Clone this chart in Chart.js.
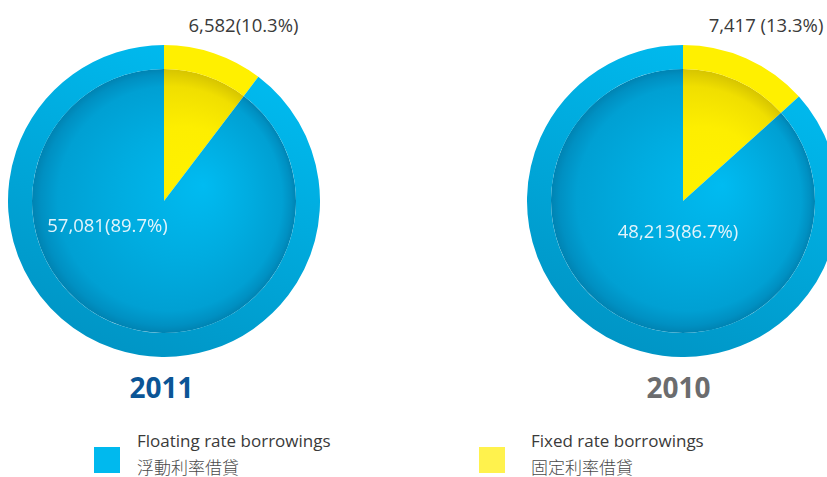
<!DOCTYPE html>
<html><head><meta charset="utf-8">
<script src="https://cdn.jsdelivr.net/npm/chart.js@4.4.0/dist/chart.umd.min.js"></script>
<style>
html,body{margin:0;padding:0;width:827px;height:477px;overflow:hidden;background:#fff;font-family:"Open Sans",sans-serif;}
.c{position:absolute;width:312px;height:312px;}
.t{position:absolute;white-space:nowrap;line-height:1;}
.ctr{transform:translateX(-50%);}
.sw{position:absolute;width:26px;height:26px;}
</style></head>
<body>
<div class="c" style="left:8px;top:45px"><canvas id="p0"></canvas></div>
<div class="c" style="left:527px;top:45px"><canvas id="p1"></canvas></div>
<div id="labels"></div>
<script>
// ---- data ----
const years = ["2011", "2010"];
const categories = ["Fixed rate borrowings", "Floating rate borrowings"];
const categoriesZh = ["固定利率借貸", "浮動利率借貸"];
const fixedValues = [6582, 7417];
const floatingValues = [57081, 48213];
const fixedPct = [10.3, 13.3];
const floatingPct = [89.7, 86.7];
const fixedLabels = ["6,582(10.3%)", "7,417 (13.3%)"];
const floatingLabels = ["57,081(89.7%)", "48,213(86.7%)"];

// ---- styling ----
function geom(chart){
  const a = chart.chartArea;
  return {cx:(a.left+a.right)/2, cy:(a.top+a.bottom)/2, r:Math.min(a.right-a.left, a.bottom-a.top)/2};
}
function ringColor(ctx){
  const chart = ctx.chart;
  if (ctx.dataIndex === 0) return '#FFF000';
  if (!chart.chartArea) return '#00B0E6';
  const {cx,cy,r} = geom(chart);
  const g = chart.ctx.createLinearGradient(cx+0.4*r, cy-r, cx-0.4*r, cy+r);
  g.addColorStop(0, '#00BCF1');
  g.addColorStop(1, '#0094C4');
  return g;
}
function diskColor(ctx){
  const chart = ctx.chart;
  if (!chart.chartArea) return ctx.dataIndex === 0 ? '#FFF000' : '#00A8DC';
  const {cx,cy,r} = geom(chart);
  const ri = r*132/156;
  const g = chart.ctx.createRadialGradient(cx+0.3*ri, cy-0.12*ri, 0, cx, cy, ri);
  if (ctx.dataIndex === 0){
    g.addColorStop(0, '#FFF200');
    g.addColorStop(0.5, '#FDEE00');
    g.addColorStop(0.85, '#F0DF00');
    g.addColorStop(1, '#D6C400');
  } else {
    g.addColorStop(0, '#00BBF1');
    g.addColorStop(0.5, '#00ACE0');
    g.addColorStop(0.85, '#00A0D3');
    g.addColorStop(0.95, '#0090C2');
    g.addColorStop(1, '#0083B2');
  }
  return g;
}
function makePie(id, i){
  const vals = [fixedValues[i], floatingValues[i]];
  new Chart(document.getElementById(id), {
    type: 'pie',
    data: {
      labels: categories,
      datasets: [
        {data: vals, backgroundColor: ringColor, borderWidth: 0, weight: 24},
        {data: vals, backgroundColor: diskColor, borderWidth: 0, weight: 132}
      ]
    },
    options: {
      responsive: true, maintainAspectRatio: false, animation: false,
      events: [], hoverOffset: 0, offset: 0,
      layout: {padding: 0},
      plugins: {legend: {display: false}, tooltip: {enabled: false}}
    }
  });
}
makePie('p0', 0);
makePie('p1', 1);

// ---- text ----
const L = document.getElementById('labels');
function txt(s, x, baseline, size, color, opts){
  opts = opts || {};
  const d = document.createElement('div');
  d.className = 't' + (opts.center ? ' ctr' : '');
  d.textContent = s;
  d.style.fontSize = size + 'px';
  d.style.color = color;
  if (opts.weight) d.style.fontWeight = opts.weight;
  if (opts.font) d.style.fontFamily = opts.font;
  d.style.left = x + 'px';
  d.style.top = (baseline - 0.888*size) + 'px';
  L.appendChild(d);
}
txt(fixedLabels[0], 243.5, 32, 18.5, '#3a3a3a', {center:true});
txt(fixedLabels[1], 766, 32, 18.5, '#3a3a3a', {center:true});
txt(floatingLabels[0], 107.5, 232, 18.5, '#E2F4FB', {center:true});
txt(floatingLabels[1], 678, 238, 18.5, '#E2F4FB', {center:true});
txt(years[0], 161.5, 398, 28, '#0B5596', {center:true, weight:'bold'});
txt(years[1], 678.5, 398, 28, '#6B6C6E', {center:true, weight:'bold'});
// legend
const sw1 = document.createElement('div'); sw1.className='sw'; sw1.style.left='94px'; sw1.style.top='447px'; sw1.style.background='#00B9EE'; L.appendChild(sw1);
const sw2 = document.createElement('div'); sw2.className='sw'; sw2.style.left='479px'; sw2.style.top='447px'; sw2.style.background='#FFF24D'; L.appendChild(sw2);
txt(categories[1], 137, 447, 17, '#3a3a3a');
txt(categoriesZh[1], 137, 473, 17, '#4a4a4a', {font:'"Noto Sans CJK TC", sans-serif', weight:300});
txt(categories[0], 531, 447, 17, '#3a3a3a');
txt(categoriesZh[0], 531, 473, 17, '#4a4a4a', {font:'"Noto Sans CJK TC", sans-serif', weight:300});
</script>
</body></html>
